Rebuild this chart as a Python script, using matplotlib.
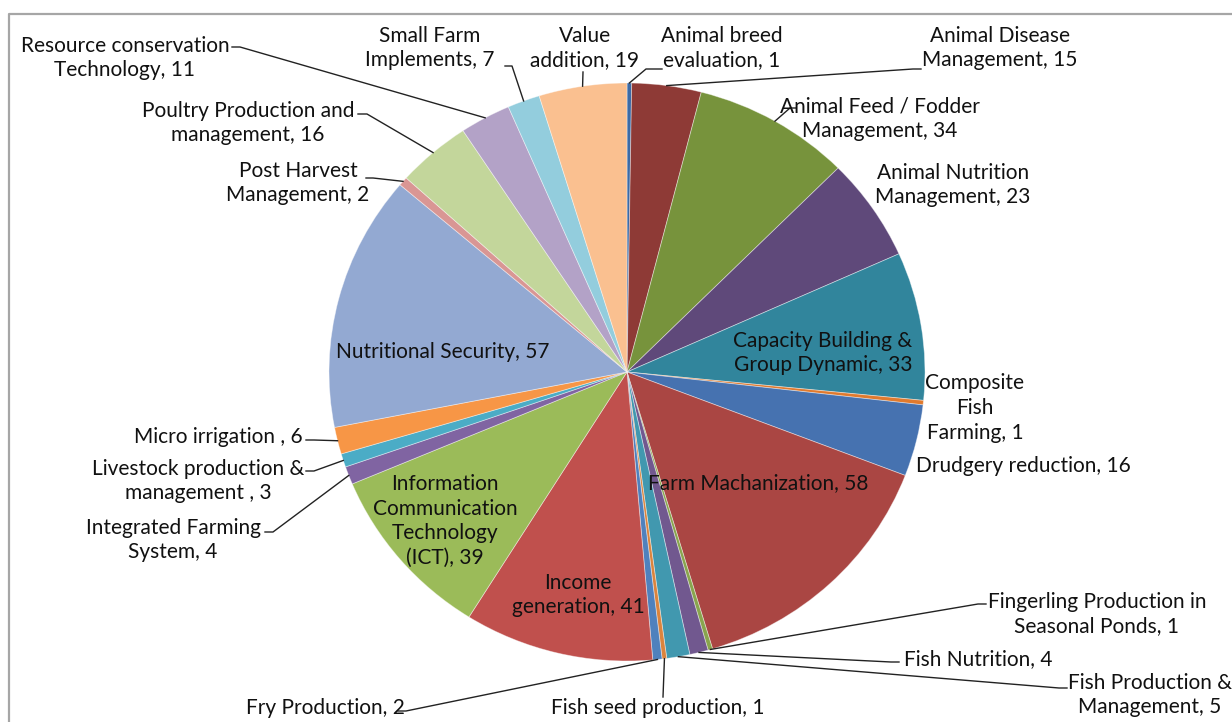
import matplotlib
matplotlib.use("Agg")
import matplotlib.pyplot as plt
import math

plt.rcParams['font.family'] = ['Lato', 'DejaVu Sans']

# ---------------- data ----------------
categories = [
    "Animal breed\nevaluation", "Animal Disease\nManagement", "Animal Feed / Fodder\nManagement",
    "Animal Nutrition\nManagement", "Capacity Building &\nGroup Dynamic", "Composite\nFish\nFarming",
    "Drudgery reduction", "Farm Machanization", "Fingerling Production in\nSeasonal Ponds",
    "Fish Nutrition", "Fish Production &\nManagement", "Fish seed production",
    "Fry Production", "Income\ngeneration", "Information\nCommunication\nTechnology\n(ICT)",
    "Integrated Farming\nSystem", "Livestock production &\nmanagement ", "Micro irrigation ",
    "Nutritional Security", "Post Harvest\nManagement", "Poultry Production and\nmanagement",
    "Resource conservation\nTechnology", "Small Farm\nImplements", "Value\naddition",
]
values = [1, 15, 34, 23, 33, 1, 16, 58, 1, 4, 5, 1, 2, 41, 39, 4, 3, 6, 57, 2, 16, 11, 7, 19]

colors = [
    '#3C6AA5', '#8E3A36', '#77933C', '#5F497A', '#31859C', '#E07A2E',
    '#4672B0', '#AA4643', '#89A54E', '#71588F', '#4198AF', '#DB843D',
    '#4F81BD', '#C0504D', '#9BBB59', '#8064A2', '#4BACC6', '#F79646',
    '#93A9D2', '#D99694', '#C3D69B', '#B3A2C7', '#93CDDD', '#FAC090',
]

# label layout (image pixel coords): text center, leader stub & elbow
label_layout = [
    ((722, 48), [(662, 69), (646, 69)]),
    ((1000, 48), [(921, 69), (913, 69)]),
    ((880, 119), [(796, 108), (790, 108)]),
    ((953, 185), None),
    ((823, 353), None),
    ((975, 408), None),
    ((1023, 466), None),
    ((758, 483), None),
    ((1097, 614), [(986, 604), (978, 604)]),
    ((978, 659), [(899, 662), (891, 662)]),
    ((1150, 695), [(1067, 688), (1059, 688)]),
    ((658, 708), [(663, 697)]),
    ((325, 708), [(398, 711), (406, 711)]),
    ((578, 595), None),
    ((445, 521), None),
    ((173, 540), [(265, 532), (273, 532)]),
    ((198, 481), [(306, 471), (314, 471)]),
    ((218, 437), [(306, 440), (314, 440)]),
    ((443, 352), None),
    ((298, 183), [(366, 178), (373, 178)]),
    ((248, 123), [(358, 114), (367, 114)]),
    ((125, 58), [(232, 47), (240, 47)]),
    ((430, 48), [(505, 66), (512, 66)]),
    ((585, 48), [(583, 72)]),
]

W, H = 1232, 722
fig = plt.figure(figsize=(W / 100, H / 100), dpi=100)
fig.patch.set_facecolor('white')

# pie axes (slightly elliptical, as in the reference)
cx, cy, rx, ry = 627, 372, 298, 289
ax = fig.add_axes([(cx - rx) / W, (H - (cy + ry)) / H, 2 * rx / W, 2 * ry / H])
wedges, _ = ax.pie(values, colors=colors, startangle=90, counterclock=False,
                   radius=1.0, wedgeprops=dict(edgecolor=(1, 1, 1, 0.45), linewidth=0.6))
ax.set_aspect('auto')
ax.set_xlim(-1, 1)
ax.set_ylim(-1, 1)
ax.axis('off')

# overlay axes in image pixel coordinates
ov = fig.add_axes([0, 0, 1, 1], zorder=5)
ov.set_xlim(0, W)
ov.set_ylim(H, 0)
ov.axis('off')
ov.patch.set_alpha(0)

# chart border (partially cropped in reference)
ov.plot([9, 9, W + 5], [H + 5, 14, 14], color='#a6a6a6', lw=1.6, solid_capstyle='butt')

for w, cat, v, (pos, leader) in zip(wedges, categories, values, label_layout):
    ov.text(pos[0], pos[1], f"{cat}, {v}", ha='center', va='center', fontsize=15,
            color='#111111', linespacing=1.3, multialignment='center')
    if leader:
        mid = math.radians((w.theta1 + w.theta2) / 2)
        dx, dy = ax.transData.transform((math.cos(mid), math.sin(mid)))
        anchor = (dx, H - dy)
        pts = list(leader) + [anchor]
        ov.plot([p[0] for p in pts], [p[1] for p in pts], color='#222222', lw=1.0)

fig.savefig('out.png', dpi=100)
